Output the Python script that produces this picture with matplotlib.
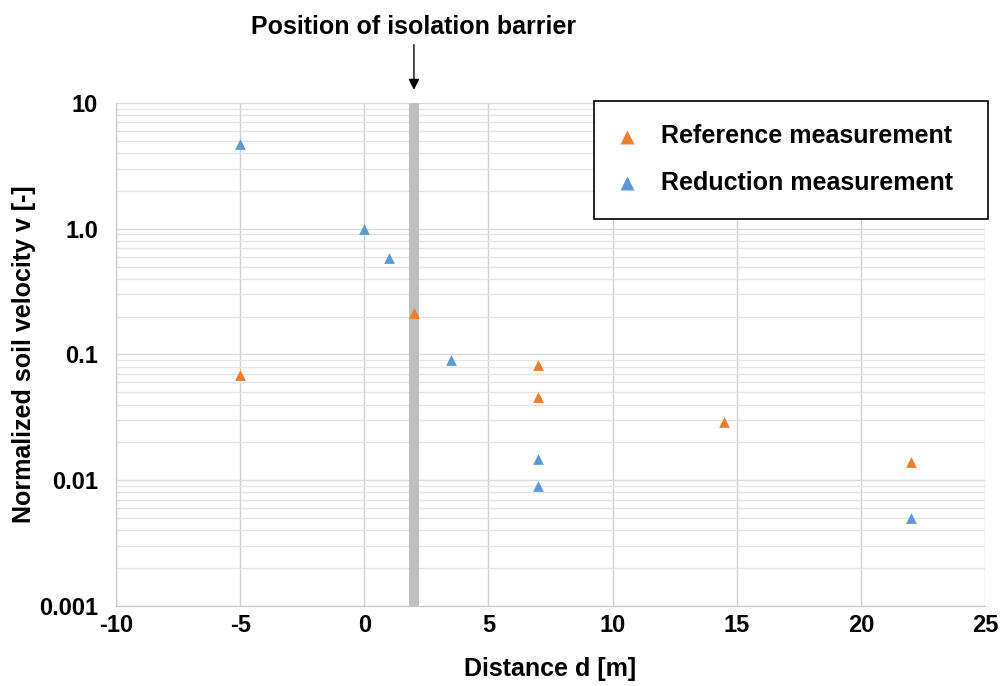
import matplotlib
matplotlib.use("Agg")
import matplotlib.pyplot as plt
from matplotlib.ticker import FixedLocator, LogLocator, NullFormatter

plt.rcParams['font.family'] = ['Liberation Sans', 'DejaVu Sans']
plt.rcParams['font.weight'] = 'bold'
plt.rcParams['axes.unicode_minus'] = False

# measured data
ref_d = [-5, 2, 7, 7, 14.5, 22]
ref_v = [0.069, 0.214, 0.083, 0.046, 0.029, 0.014]
red_d = [-5, 0, 1, 3.5, 7, 7, 22]
red_v = [4.7, 1.0, 0.585, 0.09, 0.0148, 0.009, 0.005]

barrier_x = 2.0
barrier_w = 0.4

y_ticks = [0.001, 0.01, 0.1, 1.0, 10]
y_tick_labels = ["0.001", "0.01", "0.1", "1.0", "10"]
x_ticks = [-10, -5, 0, 5, 10, 15, 20, 25]

fig = plt.figure(figsize=(10.01, 6.86), dpi=100)
ax = fig.add_axes([0.1159, 0.1166, 0.8681, 0.7333])

ax.set_yscale('log')
ax.set_xlim(-10, 25)
ax.set_ylim(0.001, 10)

# grid
ax.yaxis.set_minor_locator(LogLocator(base=10, subs=range(2, 10)))
ax.yaxis.set_minor_formatter(NullFormatter())
ax.grid(True, which='minor', axis='y', color='#e4e4e4', lw=1)
ax.grid(True, which='major', axis='y', color='#d9d9d9', lw=1)
ax.grid(True, which='major', axis='x', color='#d0d0d0', lw=1)
ax.set_axisbelow(True)

ax.axvspan(barrier_x - barrier_w / 2, barrier_x + barrier_w / 2, color='#bfbfbf', lw=0, zorder=1)

ax.scatter(ref_d, ref_v, marker='^', s=60, color='#ED7D31', lw=0, zorder=3,
           label='Reference measurement')
ax.scatter(red_d, red_v, marker='^', s=60, color='#5B9BD5', lw=0, zorder=3,
           label='Reduction measurement')

ax.xaxis.set_major_locator(FixedLocator(x_ticks))
ax.set_yticks(y_ticks)
ax.set_yticklabels(y_tick_labels)
ax.tick_params(axis='both', which='both', length=0, labelsize=17, pad=6)
ax.tick_params(axis='y', pad=13)
for s in ['top', 'right']:
    ax.spines[s].set_visible(False)
for s in ['left', 'bottom']:
    ax.spines[s].set_color('#c8c8c8')

ax.set_xlabel('Distance d [m]', fontsize=18, fontweight='bold', labelpad=14)
ax.set_ylabel('Normalized soil velocity v [-]', fontsize=18, fontweight='bold', labelpad=2)

# barrier label and arrow
ax.annotate('', xy=(barrier_x, 1.026), xycoords=('data', 'axes fraction'),
            xytext=(barrier_x, 1.116), textcoords=('data', 'axes fraction'),
            arrowprops=dict(arrowstyle='-|>', color='black', lw=1, mutation_scale=16,
                            shrinkA=0, shrinkB=0),
            annotation_clip=False)
ax.text(barrier_x, 1.128, 'Position of isolation barrier', transform=ax.get_xaxis_transform(),
        ha='center', va='bottom', fontsize=18, fontweight='bold')

leg = ax.legend(loc='upper left', bbox_to_anchor=(0.550, 0.5, 0.4535, 0.5045), mode='expand',
                fontsize=18, frameon=True, fancybox=False, edgecolor='black', framealpha=1,
                borderpad=0.95, labelspacing=0.9, handlelength=0.72, handletextpad=1.0,
                borderaxespad=0, scatterpoints=1, markerscale=1.3)
leg.get_frame().set_linewidth(1.2)

fig.savefig('out.png', dpi=100)
